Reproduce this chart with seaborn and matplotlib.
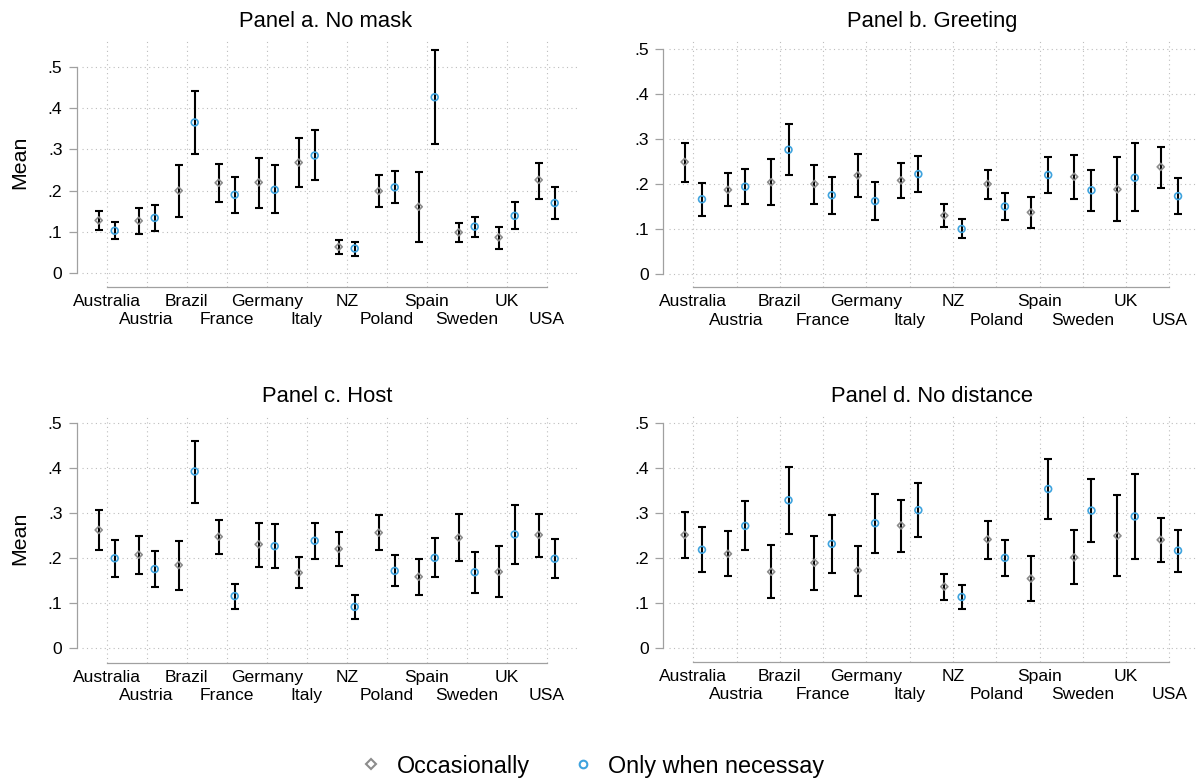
import numpy as np
import pandas as pd
import matplotlib
matplotlib.use('Agg')
import matplotlib.pyplot as plt
import seaborn as sns
from matplotlib.lines import Line2D

countries = ['Australia', 'Austria', 'Brazil', 'France', 'Germany', 'Italy',
             'NZ', 'Poland', 'Spain', 'Sweden', 'UK', 'USA']

# Panel a. No mask
nomask_occ = [0.128, 0.127, 0.200, 0.219, 0.220, 0.268, 0.064, 0.199, 0.161, 0.099, 0.087, 0.226]
nomask_occ_lo = [0.104, 0.096, 0.136, 0.173, 0.159, 0.208, 0.047, 0.160, 0.076, 0.076, 0.059, 0.181]
nomask_occ_hi = [0.151, 0.157, 0.263, 0.264, 0.279, 0.327, 0.081, 0.237, 0.246, 0.121, 0.113, 0.268]
nomask_nec = [0.103, 0.134, 0.365, 0.190, 0.202, 0.285, 0.060, 0.208, 0.426, 0.113, 0.139, 0.170]
nomask_nec_lo = [0.082, 0.103, 0.288, 0.147, 0.145, 0.226, 0.043, 0.169, 0.313, 0.089, 0.107, 0.131]
nomask_nec_hi = [0.125, 0.165, 0.442, 0.234, 0.261, 0.346, 0.076, 0.248, 0.541, 0.137, 0.173, 0.208]

# Panel b. Greeting
greet_occ = [0.249, 0.187, 0.204, 0.200, 0.219, 0.208, 0.130, 0.200, 0.137, 0.216, 0.188, 0.238]
greet_occ_lo = [0.205, 0.150, 0.153, 0.156, 0.170, 0.169, 0.105, 0.167, 0.103, 0.167, 0.117, 0.192]
greet_occ_hi = [0.292, 0.225, 0.256, 0.243, 0.266, 0.247, 0.156, 0.232, 0.170, 0.264, 0.261, 0.283]
greet_nec = [0.166, 0.194, 0.276, 0.175, 0.162, 0.222, 0.100, 0.150, 0.220, 0.186, 0.214, 0.173]
greet_nec_lo = [0.129, 0.156, 0.219, 0.134, 0.121, 0.183, 0.079, 0.121, 0.180, 0.141, 0.139, 0.133]
greet_nec_hi = [0.203, 0.233, 0.333, 0.216, 0.205, 0.262, 0.123, 0.179, 0.261, 0.232, 0.290, 0.213]

# Panel c. Host
host_occ = [0.263, 0.208, 0.185, 0.248, 0.231, 0.168, 0.221, 0.257, 0.159, 0.246, 0.170, 0.252]
host_occ_lo = [0.219, 0.165, 0.130, 0.210, 0.181, 0.133, 0.182, 0.218, 0.119, 0.195, 0.113, 0.204]
host_occ_hi = [0.307, 0.250, 0.239, 0.286, 0.279, 0.202, 0.259, 0.296, 0.199, 0.298, 0.228, 0.299]
host_nec = [0.200, 0.176, 0.393, 0.116, 0.227, 0.239, 0.092, 0.172, 0.201, 0.169, 0.253, 0.199]
host_nec_lo = [0.159, 0.136, 0.324, 0.087, 0.179, 0.199, 0.065, 0.139, 0.159, 0.124, 0.187, 0.156]
host_nec_hi = [0.241, 0.216, 0.461, 0.144, 0.276, 0.278, 0.119, 0.207, 0.245, 0.214, 0.319, 0.244]

# Panel d. No distance
dist_occ = [0.252, 0.210, 0.170, 0.190, 0.173, 0.273, 0.137, 0.242, 0.155, 0.202, 0.250, 0.241]
dist_occ_lo = [0.200, 0.160, 0.112, 0.130, 0.117, 0.215, 0.108, 0.199, 0.106, 0.142, 0.160, 0.191]
dist_occ_hi = [0.302, 0.260, 0.230, 0.250, 0.227, 0.330, 0.166, 0.284, 0.205, 0.262, 0.340, 0.290]
dist_nec = [0.219, 0.272, 0.329, 0.232, 0.278, 0.307, 0.114, 0.201, 0.354, 0.306, 0.293, 0.217]
dist_nec_lo = [0.170, 0.218, 0.255, 0.168, 0.212, 0.247, 0.087, 0.161, 0.287, 0.237, 0.199, 0.170]
dist_nec_hi = [0.269, 0.327, 0.402, 0.296, 0.343, 0.367, 0.141, 0.240, 0.420, 0.376, 0.388, 0.264]

panels = [
    ('Panel a. No mask', nomask_occ, nomask_occ_lo, nomask_occ_hi, nomask_nec, nomask_nec_lo, nomask_nec_hi),
    ('Panel b. Greeting', greet_occ, greet_occ_lo, greet_occ_hi, greet_nec, greet_nec_lo, greet_nec_hi),
    ('Panel c. Host', host_occ, host_occ_lo, host_occ_hi, host_nec, host_nec_lo, host_nec_hi),
    ('Panel d. No distance', dist_occ, dist_occ_lo, dist_occ_hi, dist_nec, dist_nec_lo, dist_nec_hi),
]

groups = ['Occasionally', 'Only when necessay']
gray = '#8c8c8c'
blue = '#3ea3de'
axcol = '#a0a0a0'

sns.set_style('white')
plt.rcParams['font.family'] = ['Liberation Sans', 'DejaVu Sans']
plt.rcParams['text.color'] = 'black'
plt.rcParams['axes.labelcolor'] = 'black'
plt.rcParams['xtick.color'] = 'black'
plt.rcParams['ytick.color'] = 'black'

W, H = 1198, 782
fig = plt.figure(figsize=(W / 100, H / 100), dpi=100)

# pixel boxes: left, right, top, bottom ; xlim ; ylim ; title x, title baseline
boxes = [
    (82, 577, 40, 286.7, (-0.6175, 11.7575), (-0.0324, 0.5645), 326, 26.7),
    (668.5, 1197, 40, 287.3, (-0.573, 11.638), (-0.0296, 0.52), 932, 26.7),
    (82, 577, 415, 662.7, (-0.6175, 11.7575), (-0.032, 0.5185), 327, 401.7),
    (668.5, 1197, 415, 661.7, (-0.573, 11.638), (-0.0298, 0.5185), 932, 401.7),
]

x = np.arange(len(countries))
off = 0.2

for k, (title, om, olo, ohi, nm, nlo, nhi) in enumerate(panels):
    l, r, t, b, xl, yl, tx, ty = boxes[k]
    ax = fig.add_axes([l / W, 1 - b / H, (r - l) / W, (b - t) / H])

    df = pd.DataFrame({
        'country': countries * 2,
        'x': np.concatenate([x - off, x + off]),
        'mean': om + nm,
        'lo': olo + nlo,
        'hi': ohi + nhi,
        'group': [groups[0]] * 12 + [groups[1]] * 12,
    })

    ax.errorbar(df['x'], df['mean'],
                yerr=[df['mean'] - df['lo'], df['hi'] - df['mean']],
                fmt='none', ecolor='black', elinewidth=1.5, capsize=2.8,
                capthick=1.5, zorder=2)

    d1 = df[df['group'] == groups[0]]
    d2 = df[df['group'] == groups[1]]
    sns.scatterplot(x=d1['x'], y=d1['mean'], ax=ax, marker='D', s=13,
                    facecolor='none', edgecolor=gray, linewidth=1.2, zorder=3)
    sns.scatterplot(x=d2['x'], y=d2['mean'], ax=ax, marker='o', s=24,
                    facecolor='none', edgecolor=blue, linewidth=1.2, zorder=3)

    ax.set_xlim(*xl)
    ax.set_ylim(*yl)
    ax.set_xlabel('')
    ax.set_ylabel('')

    ax.set_yticks([0, 0.1, 0.2, 0.3, 0.4, 0.5])
    ax.set_yticklabels(['0', '.1', '.2', '.3', '.4', '.5'])
    ax.set_xticks(x)
    ax.set_xticklabels([])
    ax.tick_params(axis='y', left=True, length=6, width=0.9, color=axcol,
                   pad=4.3, labelsize=12.6, labelcolor='black')
    ax.tick_params(axis='x', bottom=False, length=0)

    ax.grid(True, color='#bdbdbd', linewidth=0.8, linestyle=(0, (1, 3)))
    ax.set_axisbelow(True)

    for s in ['top', 'right']:
        ax.spines[s].set_visible(False)
    ax.spines['left'].set_position(('outward', 3.8))
    ax.spines['left'].set_bounds(0, 0.5)
    ax.spines['bottom'].set_bounds(0, 11)
    for s in ['left', 'bottom']:
        ax.spines[s].set_color(axcol)
        ax.spines[s].set_linewidth(0.9)

    for i, c in enumerate(countries):
        dy = -13.8 if i % 2 == 0 else -27
        ax.annotate(c, xy=(i, 0), xycoords=('data', 'axes fraction'),
                    xytext=(0, dy), textcoords='offset points',
                    ha='center', va='baseline', fontsize=12.6, color='black')

    fig.text(tx / W, 1 - ty / H, title, ha='center', va='baseline',
             fontsize=15.8, color='black')
    if k in (0, 2):
        fig.text(20 / W, 1 - ((t + b) / 2 - 1) / H, 'Mean', rotation=90,
                 ha='center', va='center', fontsize=15.4, color='black')

handles = [
    Line2D([], [], linestyle='none', marker='D', markersize=5.5,
           markerfacecolor='none', markeredgecolor=gray, markeredgewidth=1.5),
    Line2D([], [], linestyle='none', marker='o', markersize=5.5,
           markerfacecolor='none', markeredgecolor=blue, markeredgewidth=1.5),
]
fig.legend(handles, groups, loc='center', bbox_to_anchor=(592 / W, 1 - 766 / H),
           ncol=2, frameon=False, fontsize=16.8, handlelength=1.0,
           handletextpad=0.6, columnspacing=1.75, labelcolor='black')

fig.savefig('out.png', dpi=100)
